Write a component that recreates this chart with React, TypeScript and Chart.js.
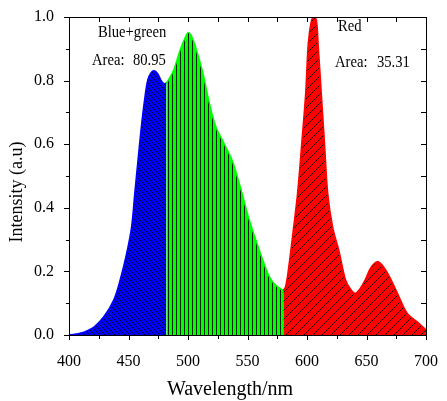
import React, { useEffect, useRef } from "react";
import { Chart, registerables } from "chart.js";

Chart.register(...registerables);

// Blue segment (400 - 481.7 nm)
const blueX = [400, 405, 410, 415, 421.3, 429.4, 437.6, 443, 448.5, 452.6, 455.3, 458, 460.8, 463.5, 466.2, 469, 471.7, 474.5, 477.5, 479.9, 481.7];
const blueY = [0.0, 0.002, 0.006, 0.013, 0.026, 0.058, 0.11, 0.173, 0.257, 0.34, 0.446, 0.55, 0.655, 0.739, 0.802, 0.825, 0.831, 0.822, 0.8, 0.79, 0.792];
// Green segment (481.7 - 580 nm)
const greenX = [481.7, 484, 488, 493.4, 497, 500.3, 503.5, 507.1, 512.5, 518, 523.4, 530.2, 537, 543.9, 550.7, 558.9, 567, 571, 575.2, 580];
const greenY = [0.792, 0.805, 0.833, 0.896, 0.93, 0.951, 0.935, 0.896, 0.823, 0.729, 0.655, 0.603, 0.55, 0.466, 0.372, 0.278, 0.194, 0.168, 0.152, 0.14];
// Red segment (580 - 700 nm)
const redX = [580, 582, 584.7, 588.8, 592.1, 595.6, 598.9, 601.1, 603.8, 605.8, 607.9, 609.3, 612, 614.7, 617.4, 621.5, 627, 632.4, 636.5, 640.6, 644.5, 648.8, 654.2, 660.2, 667.8, 676, 684.2, 692.4, 700];
const redY = [0.14, 0.152, 0.215, 0.34, 0.446, 0.603, 0.76, 0.917, 0.99, 1.0, 0.99, 0.917, 0.76, 0.603, 0.446, 0.34, 0.262, 0.173, 0.145, 0.131, 0.145, 0.173, 0.215, 0.23, 0.194, 0.131, 0.068, 0.042, 0.016];

const xTicks = [400, 450, 500, 550, 600, 650, 700];
const yTicks = [0.0, 0.2, 0.4, 0.6, 0.8, 1.0];

const bgLabel = "Blue+green";
const bgArea = "80.95";
const redLabel = "Red";
const redArea = "35.31";

function toPoints(xs: number[], ys: number[]) {
  return xs.map((x, i) => ({ x, y: ys[i] }));
}

function makePattern(bg: string, fg: string, kind: string, s: number, lw: number) {
  const c = document.createElement("canvas");
  c.width = s;
  c.height = s;
  const g = c.getContext("2d")!;
  g.fillStyle = bg;
  g.fillRect(0, 0, s, s);
  g.strokeStyle = fg;
  g.lineWidth = lw;
  g.beginPath();
  if (kind === "back") {
    g.moveTo(-1, -1); g.lineTo(s + 1, s + 1);
    g.moveTo(-1, s - 1); g.lineTo(1, s + 1);
    g.moveTo(s - 1, -1); g.lineTo(s + 1, 1);
  } else if (kind === "fwd") {
    g.moveTo(-1, s + 1); g.lineTo(s + 1, -1);
    g.moveTo(-1, 1); g.lineTo(1, -1);
    g.moveTo(s - 1, s + 1); g.lineTo(s + 1, s - 1);
  } else {
    g.moveTo(0.5, 0); g.lineTo(0.5, s);
  }
  g.stroke();
  return g.createPattern(c, "repeat")!;
}

const SERIF = "'Liberation Serif', 'Times New Roman', serif";

const framePlugin = {
  id: "framePlugin",
  afterDraw(chart: any) {
    const ctx = chart.ctx;
    const { left, right, top, bottom } = chart.chartArea;
    const xs = chart.scales.x;
    const ys = chart.scales.y;
    ctx.save();
    ctx.strokeStyle = "#000";
    ctx.lineWidth = 1;
    ctx.strokeRect(Math.round(left) + 0.5, Math.round(top) + 0.5, Math.round(right - left), Math.round(bottom - top));
    ctx.beginPath();
    for (let v = 400; v <= 700; v += 25) {
      const px = Math.round(xs.getPixelForValue(v)) + 0.5;
      const major = v % 50 === 0;
      ctx.moveTo(px, bottom);
      ctx.lineTo(px, bottom + (major ? 5 : 4));
      ctx.moveTo(px, top);
      ctx.lineTo(px, top + 5);
    }
    for (let i = 0; i <= 10; i++) {
      const v = i / 10;
      const py = Math.round(ys.getPixelForValue(v)) + 0.5;
      const major = i % 2 === 0;
      ctx.moveTo(left, py);
      ctx.lineTo(left - (major ? 5 : 3), py);
      ctx.moveTo(right, py);
      ctx.lineTo(right - 5, py);
    }
    ctx.stroke();

    ctx.fillStyle = "#000";
    ctx.font = `20px ${SERIF}`;
    ctx.textAlign = "center";
    ctx.textBaseline = "alphabetic";
    ctx.fillText("Wavelength/nm", 230, 395);
    ctx.save();
    ctx.translate(22, 192);
    ctx.rotate(-Math.PI / 2);
    ctx.font = `18px ${SERIF}`;
    ctx.fillText("Intensity (a.u)", 0, 0);
    ctx.restore();

    const txt = (s: string, x: number, y: number) => {
      ctx.save();
      ctx.translate(x, y);
      ctx.scale(0.86, 1);
      ctx.font = `17px ${SERIF}`;
      ctx.textAlign = "left";
      ctx.fillText(s, 0, 0);
      ctx.restore();
    };
    txt(bgLabel, 98, 37);
    txt("Area:", 92, 65);
    txt(bgArea, 133, 65);
    txt(redLabel, 338, 31);
    txt("Area:", 335, 67);
    txt(redArea, 377, 67);
    ctx.restore();
  },
};

export default function App() {
  const ref = useRef<HTMLCanvasElement>(null);
  useEffect(() => {
    let chart: any = null;
    let cancelled = false;
    const build = () => {
      if (cancelled || !ref.current) return;
      const bluePat = makePattern("#0000ff", "#000033", "back", 5, 1);
      const greenPat = makePattern("#00ff00", "#002000", "vert", 4, 1);
      const redPat = makePattern("#ff0000", "#200000", "fwd", 9, 1);
      const common = { fill: "origin", borderWidth: 1.5, pointRadius: 0, tension: 0.35 };
      chart = new Chart(ref.current, {
        type: "line",
        data: {
          datasets: [
            { ...common, data: toPoints(blueX, blueY), borderColor: "#0000ff", backgroundColor: bluePat as any },
            { ...common, data: toPoints(greenX, greenY), borderColor: "#00ff00", backgroundColor: greenPat as any },
            { ...common, data: toPoints(redX, redY), borderColor: "#ff0000", backgroundColor: redPat as any },
          ] as any,
        },
        options: {
          animation: false,
          responsive: false,
          events: [],
          layout: { padding: { left: 0, right: 11, top: 17, bottom: 0 } },
          plugins: { legend: { display: false }, tooltip: { enabled: false } },
          scales: {
            x: {
              type: "linear",
              min: 400,
              max: 700,
              afterBuildTicks: (s: any) => { s.ticks = xTicks.map((v) => ({ value: v })); },
              afterFit: (s: any) => { s.height = 66; },
              grid: { display: false },
              border: { display: false },
              ticks: { color: "#000", font: { family: SERIF, size: 16 }, padding: 9, maxRotation: 0, callback: (v: any) => String(v) },
            },
            y: {
              type: "linear",
              min: 0,
              max: 1,
              afterBuildTicks: (s: any) => { s.ticks = yTicks.map((v) => ({ value: v })); },
              afterFit: (s: any) => { s.width = 69; },
              grid: { display: false },
              border: { display: false },
              ticks: { color: "#000", font: { family: SERIF, size: 16 }, padding: 7, callback: (v: any) => Number(v).toFixed(1) },
            },
          },
        },
        plugins: [framePlugin],
      });
    };
    const fl = (document as any).fonts;
    if (fl && fl.load) {
      Promise.all([fl.load(`16px "Liberation Serif"`), fl.load(`20px "Liberation Serif"`)]).then(build, build);
    } else {
      build();
    }
    return () => {
      cancelled = true;
      if (chart) chart.destroy();
    };
  }, []);
  return (
    <div style={{ position: "fixed", left: 0, top: 0, width: 447, height: 401, background: "#fff" }}>
      <canvas ref={ref} width={447} height={401} />
    </div>
  );
}
